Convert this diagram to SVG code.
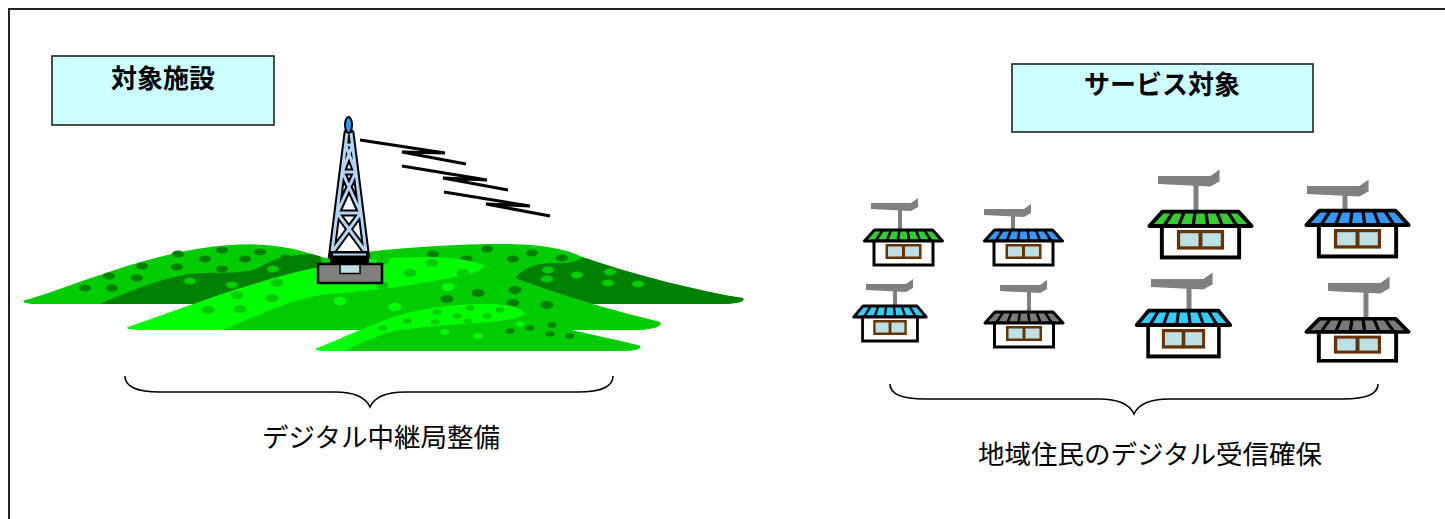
<svg xmlns="http://www.w3.org/2000/svg" xmlns:xlink="http://www.w3.org/1999/xlink" width="1445" height="519" viewBox="0 0 1445 519">
  <style>
    .frame { fill: none; stroke: #222; stroke-width: 2; }
    .title-box { fill: #ccffff; stroke: #222; stroke-width: 1.6; }
    .title { font-family: "Noto Sans CJK JP", "Liberation Sans", sans-serif; font-weight: bold; font-size: 26px; text-anchor: middle; fill: #000; }
    .label { font-family: "Noto Sans CJK JP", "Liberation Sans", sans-serif; font-size: 26.5px; text-anchor: middle; fill: #000; }
    .brace { fill: none; stroke: #000; stroke-width: 1.6; }
    .signal { fill: none; stroke: #000; stroke-width: 3; stroke-linejoin: miter; }
    .mast { stroke: #808080; stroke-width: 4; }
    .mast-l { stroke: #808080; stroke-width: 5; }
    .boom { fill: #808080; }
    .dk { fill: #008000; }
    .md { fill: #00cc00; }
    .br { fill: #00ff00; }
  </style>
  <defs>
    <!-- small house: origin at body top centre -->
    <g id="house">
      <polygon points="-39,0 -29,-11 29,-11 39,0" fill="currentColor" stroke="#000" stroke-width="3" stroke-linejoin="round"/>
      <path d="M-20.7,-11 L-27.9,0 M-12.4,-11 L-16.7,0 M-4.1,-11 L-5.6,0 M4.1,-11 L5.6,0 M12.4,-11 L16.7,0 M20.7,-11 L27.9,0" stroke="#000" stroke-width="2.5"/>
      <rect x="-29.5" y="0" width="59" height="24" fill="#fff" stroke="#000" stroke-width="3"/>
      <rect x="-18" y="3" width="36" height="15" fill="#663300"/>
      <rect x="-15.5" y="5.5" width="14" height="10" fill="#bde0e6"/>
      <rect x="1.5" y="5.5" width="14" height="10" fill="#bde0e6"/>
    </g>
    <!-- antenna boom: origin at mast top -->
    <polygon id="boom" class="boom" points="-29,-3 11,-3 18,-8 18,1 11,5 -29,3"/>
    <!-- lattice of the relay tower -->
    <path id="lattice" d="M347,133 L331.5,256 M351,133 L366.5,256 M345.5,145 L352.5,145 M342.2,172 L355.8,172 M337.1,213 L360.9,213 M345.5,145 L355.8,172 M352.5,145 L342.2,172 M342.2,172 L360.9,213 M355.8,172 L337.1,213 M337.1,213 L365.8,252 M360.9,213 L332.2,252"/>
    <path id="backHill" d="M25,300 C60,292 150,250 230,245 C275,242 300,250 325,258 C370,250 440,244 500,244 C545,244 568,250 582,257 C625,272 700,292 743,298 C746,302 735,304 720,304 L40,304 C25,304 21,302 25,300 Z"/>
    <path id="midHill" d="M128,327 C180,310 280,268 365,260 C420,255 465,256 485,266 C540,290 610,310 660,322 C663,327 650,330 630,330 L140,330 C128,330 125,328 128,327 Z"/>
    <path id="frontHill" d="M317,348 C345,338 380,318 420,310 C450,304 490,302 512,306 C524,309 526,318 542,323 C580,333 620,340 640,346 C643,350 630,351 620,351 L325,351 C316,351 314,349 317,348 Z"/>
    <clipPath id="clipBack"><use xlink:href="#backHill"/></clipPath>
    <clipPath id="clipMid"><use xlink:href="#midHill"/></clipPath>
    <clipPath id="clipFront"><use xlink:href="#frontHill"/></clipPath>
  </defs>

  <rect width="1445" height="519" fill="#fff"/>
  <path class="frame" d="M9,519 L9,9 L1445,9"/>

  <!-- title boxes -->
  <g id="facility-title">
    <rect class="title-box" x="52" y="56" width="222" height="69"/>
    <text class="title" x="163" y="88">対象施設</text>
  </g>
  <g id="service-title">
    <rect class="title-box" x="1012" y="64" width="301" height="68"/>
    <text class="title" x="1162" y="94">サービス対象</text>
  </g>

  <!-- hills -->
  <g id="hills">
    <use xlink:href="#backHill" class="md"/>
    <g clip-path="url(#clipBack)">
      <path class="dk" d="M95,306 C120,295 160,278 190,274 C215,271 245,276 262,266 C275,258 290,254 320,254 L330,306 Z"/>
      <path class="dk" d="M505,306 C510,290 512,280 520,273 C528,266 540,263 555,263 C570,263 578,262 582,257 L760,250 L760,306 Z"/>
    </g>
    <g class="dk">
      <ellipse cx="85" cy="288" rx="6" ry="3.5"/><ellipse cx="109" cy="276" rx="6" ry="3.5"/>
      <ellipse cx="112" cy="288" rx="6" ry="3.5"/><ellipse cx="142" cy="266" rx="6" ry="3.5"/>
      <ellipse cx="137" cy="278" rx="6" ry="3.5"/><ellipse cx="178" cy="254" rx="6" ry="3.5"/>
      <ellipse cx="177" cy="267" rx="6" ry="3.5"/><ellipse cx="205" cy="259" rx="6" ry="3.5"/>
      <ellipse cx="222" cy="250" rx="6" ry="3.5"/><ellipse cx="222" cy="269" rx="6" ry="3.5"/>
      <ellipse cx="245" cy="259" rx="6" ry="3.5"/><ellipse cx="260" cy="252" rx="6" ry="3.5"/>
      <ellipse cx="286" cy="258" rx="6" ry="3.5"/><ellipse cx="433" cy="254" rx="6" ry="3.5"/>
      <ellipse cx="467" cy="259" rx="6" ry="3.5"/><ellipse cx="487" cy="249" rx="6" ry="3.5"/>
      <ellipse cx="513" cy="259" rx="6" ry="3.5"/><ellipse cx="532" cy="253" rx="6" ry="3.5"/>
      <ellipse cx="562" cy="258" rx="6" ry="3.5"/>
    </g>
    <g class="md">
      <ellipse cx="190" cy="281" rx="6" ry="3.5"/><ellipse cx="232" cy="285" rx="6" ry="3.5"/>
      <ellipse cx="273" cy="269" rx="6" ry="3.5"/><ellipse cx="548" cy="270" rx="6" ry="3.5"/>
      <ellipse cx="547" cy="279" rx="6" ry="3.5"/><ellipse cx="577" cy="275" rx="6" ry="3.5"/>
      <ellipse cx="610" cy="272" rx="6" ry="3.5"/><ellipse cx="608" cy="283" rx="6" ry="3.5"/>
      <ellipse cx="638" cy="284" rx="6" ry="3.5"/>
    </g>

    <use xlink:href="#midHill" class="br"/>
    <g clip-path="url(#clipMid)">
      <path class="md" d="M215,334 C250,318 290,300 320,295 C350,292 380,290 410,285 C440,280 462,276 476,272 C486,268 487,262 484,256 L700,256 L700,340 Z"/>
    </g>
    <g class="md">
      <ellipse cx="208" cy="310" rx="6.5" ry="4"/><ellipse cx="240" cy="309" rx="6.5" ry="4"/>
      <ellipse cx="237" cy="295" rx="6.5" ry="4"/><ellipse cx="272" cy="298" rx="6.5" ry="4"/>
      <ellipse cx="277" cy="283" rx="6.5" ry="4"/><ellipse cx="383" cy="261" rx="6.5" ry="4"/>
      <ellipse cx="432" cy="263" rx="6.5" ry="4"/><ellipse cx="410" cy="273" rx="6.5" ry="4"/>
      <ellipse cx="463" cy="273" rx="6.5" ry="4"/><ellipse cx="382" cy="285" rx="6.5" ry="4"/>
    </g>
    <g class="br">
      <ellipse cx="340" cy="301" rx="6.5" ry="4"/><ellipse cx="448" cy="287" rx="6.5" ry="4"/>
      <ellipse cx="395" cy="307" rx="6.5" ry="4"/>
    </g>
    <g class="dk">
      <ellipse cx="478" cy="293" rx="6.5" ry="4"/><ellipse cx="447" cy="299" rx="6.5" ry="4"/>
      <ellipse cx="515" cy="290" rx="6.5" ry="4"/><ellipse cx="513" cy="303" rx="6.5" ry="4"/>
      <ellipse cx="547" cy="305" rx="6.5" ry="4"/>
    </g>

    <use xlink:href="#frontHill" class="br"/>
    <g clip-path="url(#clipFront)">
      <path class="md" d="M340,353 C360,343 380,334 400,330 C430,326 460,324 490,322 C510,320 522,318 528,311 L660,305 L660,353 Z"/>
    </g>
    <g class="md">
      <ellipse cx="437" cy="312" rx="4.5" ry="2.8"/><ellipse cx="470" cy="308" rx="4.5" ry="2.8"/>
      <ellipse cx="500" cy="310" rx="4.5" ry="2.8"/><ellipse cx="457" cy="316" rx="4.5" ry="2.8"/>
      <ellipse cx="487" cy="316" rx="4.5" ry="2.8"/><ellipse cx="407" cy="321" rx="4.5" ry="2.8"/>
      <ellipse cx="435" cy="322" rx="4.5" ry="2.8"/><ellipse cx="468" cy="321" rx="4.5" ry="2.8"/>
      <ellipse cx="383" cy="328" rx="4.5" ry="2.8"/>
    </g>
    <g class="br">
      <ellipse cx="445" cy="332" rx="4.5" ry="2.8"/><ellipse cx="478" cy="336" rx="4.5" ry="2.8"/>
      <ellipse cx="520" cy="324" rx="4.5" ry="2.8"/>
    </g>
    <g class="dk">
      <ellipse cx="510" cy="331" rx="4.5" ry="2.8"/><ellipse cx="530" cy="328" rx="4.5" ry="2.8"/>
      <ellipse cx="552" cy="325" rx="4.5" ry="2.8"/><ellipse cx="550" cy="334" rx="4.5" ry="2.8"/>
      <ellipse cx="570" cy="336" rx="4.5" ry="2.8"/>
    </g>
  </g>

  <!-- relay tower -->
  <g id="tower">
    <line x1="349" y1="128" x2="349" y2="135" stroke="#000" stroke-width="3"/>
    <use xlink:href="#lattice" fill="none" stroke="#000" stroke-width="7" stroke-linecap="round"/>
    <use xlink:href="#lattice" fill="none" stroke="#b3d4f5" stroke-width="3"/>
    <rect x="330" y="251" width="39" height="13" fill="#000"/>
    <line x1="333" y1="254.5" x2="366" y2="254.5" stroke="#b3d4f5" stroke-width="2"/>
    <ellipse cx="348.5" cy="125" rx="3.5" ry="8" fill="#3399ff" stroke="#000" stroke-width="2"/>
    <rect x="318" y="264" width="64" height="19" fill="#808080" stroke="#000" stroke-width="2.5"/>
    <rect x="340" y="264.5" width="20" height="9" fill="#bde0e6" stroke="#000" stroke-width="1.5"/>
  </g>

  <!-- radio waves -->
  <g id="signals" class="signal">
    <polyline points="360,140 445,153 402,152 466,164"/>
    <polyline points="402,166 487,180 443,178 508,190"/>
    <polyline points="444,192 530,206 486,204 550,216"/>
  </g>

  <!-- houses -->
  <g id="house-1">
    <line class="mast" x1="900" y1="206" x2="900" y2="230"/>
    <use xlink:href="#boom" transform="translate(900,206)"/>
    <use xlink:href="#house" transform="translate(903.5,241)" color="#33cc33"/>
  </g>
  <g id="house-2">
    <line class="mast" x1="1013" y1="212" x2="1013" y2="230"/>
    <use xlink:href="#boom" transform="translate(1013,212)"/>
    <use xlink:href="#house" transform="translate(1023.5,241)" color="#3399ff"/>
  </g>
  <g id="house-3">
    <line class="mast" x1="895" y1="287" x2="895" y2="306"/>
    <use xlink:href="#boom" transform="translate(895,287)"/>
    <use xlink:href="#house" transform="translate(890,317) scale(0.93,1)" color="#33ccff"/>
  </g>
  <g id="house-4">
    <line class="mast" x1="1029" y1="288" x2="1029" y2="311"/>
    <use xlink:href="#boom" transform="translate(1029,288)"/>
    <use xlink:href="#house" transform="translate(1024,323)" color="#7a7a7a"/>
  </g>
  <g id="house-5">
    <line class="mast-l" x1="1196" y1="180" x2="1196" y2="212"/>
    <use xlink:href="#boom" transform="translate(1196,180) scale(1.31)"/>
    <use xlink:href="#house" transform="translate(1200.5,226) scale(1.31)" color="#33cc33"/>
  </g>
  <g id="house-6">
    <line class="mast-l" x1="1345" y1="190" x2="1345" y2="211"/>
    <use xlink:href="#boom" transform="translate(1345,190) scale(1.31)"/>
    <use xlink:href="#house" transform="translate(1357.5,225) scale(1.31)" color="#3399ff"/>
  </g>
  <g id="house-7">
    <line class="mast-l" x1="1189" y1="283" x2="1189" y2="311"/>
    <use xlink:href="#boom" transform="translate(1189,283) scale(1.31)"/>
    <use xlink:href="#house" transform="translate(1183.5,325) scale(1.2,1.31)" color="#33ccff"/>
  </g>
  <g id="house-8">
    <line class="mast-l" x1="1366" y1="287" x2="1366" y2="317"/>
    <use xlink:href="#boom" transform="translate(1366,287) scale(1.31)"/>
    <use xlink:href="#house" transform="translate(1357.5,332) scale(1.31,1.2)" color="#7a7a7a"/>
  </g>

  <!-- braces and captions -->
  <g id="relay-caption">
    <path class="brace" d="M125,376 C125,386 135,392 160,392 L335,392 C355,392 366,398 370,407 C374,398 385,392 405,392 L578,392 C603,392 613,386 613,376"/>
    <text class="label" x="381" y="447">デジタル中継局整備</text>
  </g>
  <g id="service-caption">
    <path class="brace" d="M890,384 C890,393 900,399 925,399 L1099,399 C1119,399 1130,405 1134,414 C1138,405 1149,399 1169,399 L1343,399 C1368,399 1378,393 1378,384"/>
    <text class="label" x="1150" y="464">地域住民のデジタル受信確保</text>
  </g>
</svg>
